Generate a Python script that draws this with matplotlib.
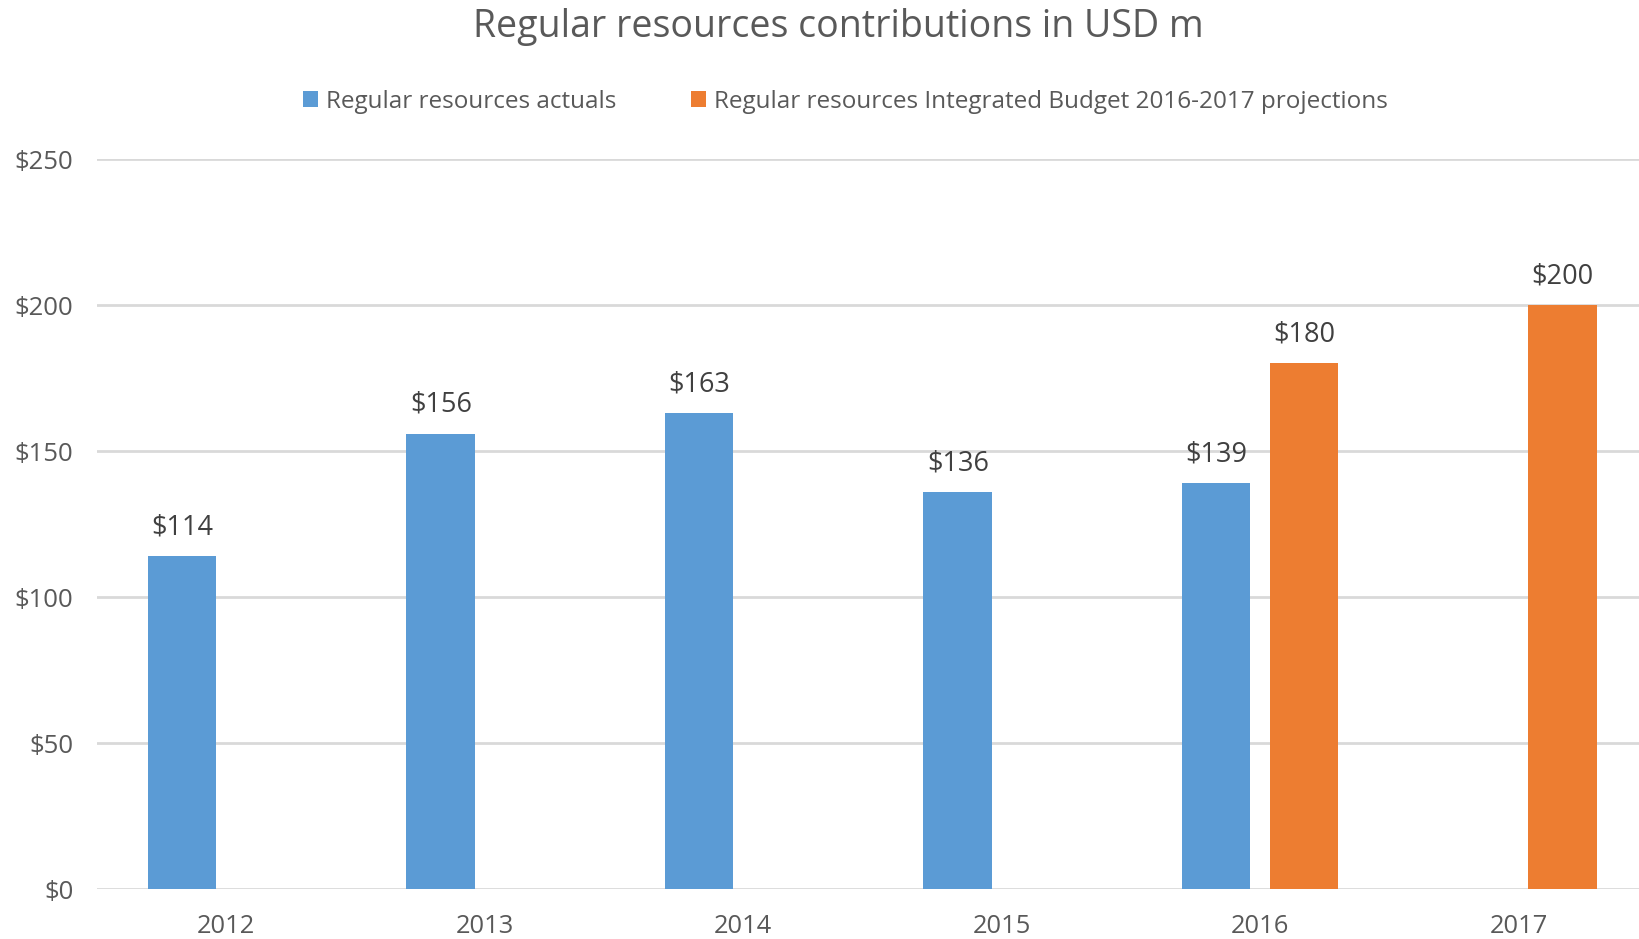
import numpy as np
import matplotlib
matplotlib.use("Agg")
import matplotlib.pyplot as plt
from matplotlib.patches import Patch

plt.rcParams['font.family'] = ['Open Sans', 'DejaVu Sans']

years = ['2012', '2013', '2014', '2015', '2016', '2017']
actuals = [114, 156, 163, 136, 139, None]
projections = [None, None, None, None, 180, 200]
yticks = [0, 50, 100, 150, 200, 250]
title = 'Regular resources contributions in USD m'
series_names = ['Regular resources actuals',
                'Regular resources Integrated Budget 2016-2017 projections']

BLUE = '#5B9BD5'
ORANGE = '#ED7D31'
TEXT = '#595959'
GRID = '#D9D9D9'

fig = plt.figure(figsize=(16.4, 9.39), dpi=100)
ax = fig.add_axes([0.0591, 0.0532, 0.9457, 0.7774])

x = np.arange(len(years))
w = 0.265
off = 0.17

bi = [i for i, v in enumerate(actuals) if v is not None]
oi = [i for i, v in enumerate(projections) if v is not None]
b1 = ax.bar(x[bi] - off, [actuals[i] for i in bi], width=w, color=BLUE, zorder=3)
b2 = ax.bar(x[oi] + off, [projections[i] for i in oi], width=w, color=ORANGE, zorder=3)
ax.bar_label(b1, labels=[f'${actuals[i]}' for i in bi], padding=10.5,
             fontsize=19.5, color='#404040')
ax.bar_label(b2, labels=[f'${projections[i]}' for i in oi], padding=10.5,
             fontsize=19.5, color='#404040')

ax.set_xlim(-0.5, len(years) - 0.5)
ax.set_ylim(0, 250)
ax.set_yticks(yticks)
ax.set_yticklabels([f'${v}' for v in yticks])
ax.set_xticks(x)
ax.set_xticklabels(years)
ax.tick_params(axis='y', length=0, pad=17, labelsize=18.5, labelcolor=TEXT)
ax.tick_params(axis='x', length=0, pad=18, labelsize=18.4, labelcolor=TEXT)
for s in ax.spines.values():
    s.set_visible(False)
ax.yaxis.grid(True, color=GRID, linewidth=2, zorder=0)
ax.set_axisbelow(True)

fig.text(0.511, 0.971, title, ha='center', va='center', fontsize=27, color=TEXT)

handles = [Patch(facecolor=BLUE), Patch(facecolor=ORANGE)]
fig.legend(handles, series_names, loc='center', bbox_to_anchor=(0.5155, 0.8915),
           ncol=2, frameon=False, fontsize=17.5, labelcolor=TEXT,
           handlelength=0.62, handleheight=0.62, handletextpad=0.33,
           columnspacing=3.05)

fig.savefig('out.png', dpi=100)
